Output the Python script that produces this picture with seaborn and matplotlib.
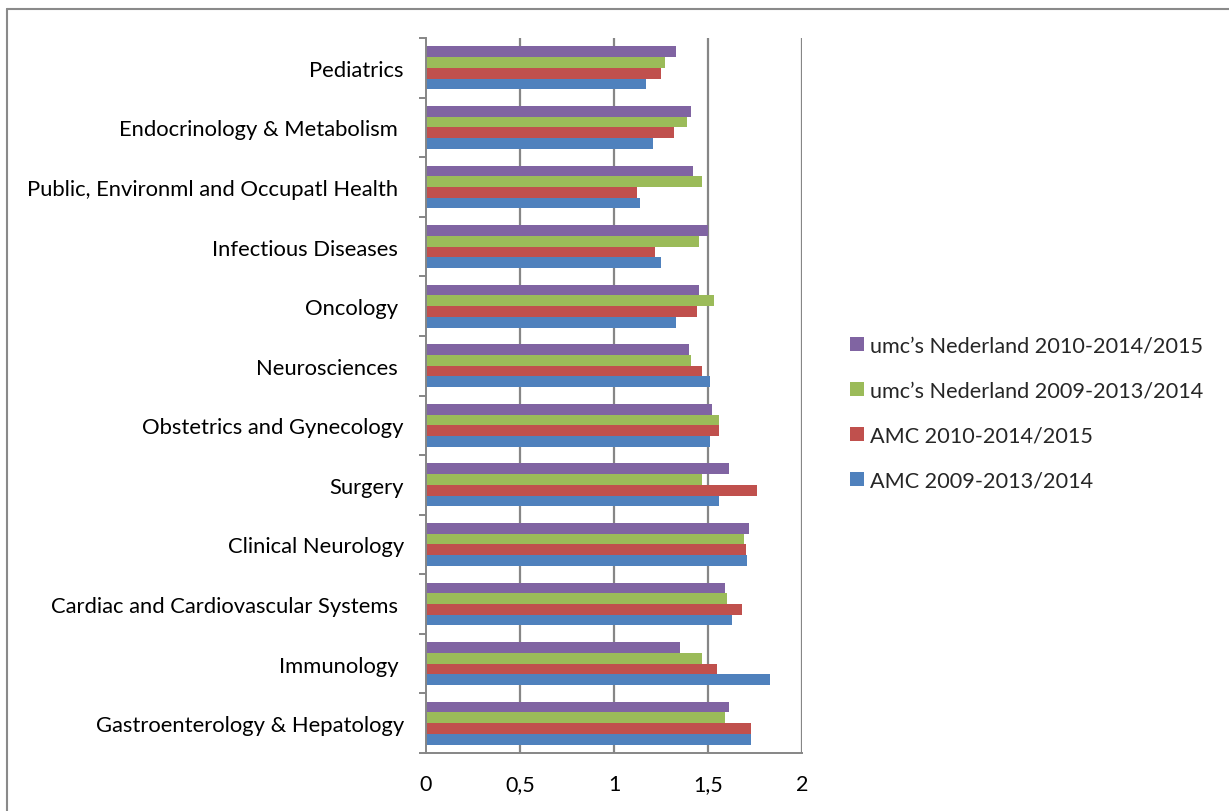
import numpy as np
import pandas as pd
import matplotlib
matplotlib.use("Agg")
import matplotlib.pyplot as plt
from matplotlib.lines import Line2D
from matplotlib.patches import Patch
import seaborn as sns

# Subject areas, top to bottom
categories = [
    "Pediatrics",
    "Endocrinology & Metabolism ",
    "Public, Environml and Occupatl Health ",
    "Infectious Diseases ",
    "Oncology ",
    "Neurosciences ",
    "Obstetrics and Gynecology",
    "Surgery",
    "Clinical Neurology",
    "Cardiac and Cardiovascular Systems ",
    "Immunology ",
    "Gastroenterology & Hepatology",
]

# Series (listed in the order drawn inside each group, top to bottom)
series_names = [
    "umc\u2019s Nederland 2010-2014/2015",
    "umc\u2019s Nederland 2009-2013/2014",
    "AMC 2010-2014/2015",
    "AMC 2009-2013/2014",
]
umc_2010_2015 = [1.33, 1.41, 1.42, 1.50, 1.45, 1.40, 1.52, 1.61, 1.72, 1.59, 1.35, 1.61]
umc_2009_2014 = [1.27, 1.39, 1.47, 1.45, 1.53, 1.41, 1.56, 1.47, 1.69, 1.60, 1.47, 1.59]
amc_2010_2015 = [1.25, 1.32, 1.12, 1.22, 1.44, 1.47, 1.56, 1.76, 1.70, 1.68, 1.55, 1.73]
amc_2009_2014 = [1.17, 1.21, 1.14, 1.25, 1.33, 1.51, 1.51, 1.56, 1.71, 1.63, 1.83, 1.73]
series_colors = ["#8064A2", "#9BBB59", "#C0504D", "#4F81BD"]

x_ticks = [0, 0.5, 1, 1.5, 2]
x_tick_labels = ["0", "0,5", "1", "1,5", "2"]

df = pd.concat(
    [
        pd.DataFrame({"category": categories, "series": name, "value": vals})
        for name, vals in zip(series_names,
                              [umc_2010_2015, umc_2009_2014, amc_2010_2015, amc_2009_2014])
    ],
    ignore_index=True,
)

sns.set_theme(style="white")
plt.rcParams["font.family"] = ["Lato", "DejaVu Sans"]

W, H = 1229, 812
fig = plt.figure(figsize=(W / 100, H / 100), dpi=100)
ax = fig.add_axes([426 / W, 1 - 754 / H, (802 - 426) / W, (754 - 39) / H])

sns.barplot(
    data=df, y="category", x="value", hue="series",
    order=categories, hue_order=series_names,
    palette=series_colors, orient="h", width=0.72,
    linewidth=0, saturation=1, legend=False, ax=ax,
)

grid_col = "#868686"
ax.set_xlim(0, 2)
ax.set_ylim(len(categories) - 0.5, -0.5)
for xv in x_ticks[1:]:
    ax.axvline(xv, color=grid_col, lw=1.6, zorder=0)

for side in ["top", "right"]:
    ax.spines[side].set_visible(False)
for side in ["left", "bottom"]:
    ax.spines[side].set_color(grid_col)
    ax.spines[side].set_linewidth(1.4)

ax.set_xticks(x_ticks)
ax.set_xticklabels(x_tick_labels, fontsize=15.5, color="#000000")
ax.tick_params(axis="x", direction="out", length=5, width=1.4, color=grid_col, pad=10)

ax.set_yticks(range(len(categories)))
ax.set_yticklabels(categories, fontsize=15.8, color="#000000")
ax.set_yticks(np.arange(len(categories) + 1) - 0.5, minor=True)
ax.tick_params(axis="y", which="major", length=0, pad=16)
ax.tick_params(axis="y", which="minor", direction="out", length=5, width=1.4,
               color=grid_col, left=True)
ax.set_xlabel("")
ax.set_ylabel("")

handles = [Patch(facecolor=c, edgecolor="none") for c in series_colors]
fig.legend(
    handles, series_names, loc="upper left",
    bbox_to_anchor=(841 / W, 1 - 328 / H), frameon=False,
    fontsize=15.6, handlelength=0.65, handleheight=0.65, handletextpad=0.3,
    labelspacing=1.15, borderaxespad=0,
)

# Chart area frame
fig.add_artist(Line2D([7 / W, 1], [1 - 9.5 / H, 1 - 9.5 / H], color="#8a8a8a", lw=1.5,
                      transform=fig.transFigure))
fig.add_artist(Line2D([7 / W, 7 / W], [0, 1 - 9.5 / H], color="#8a8a8a", lw=1.5,
                      transform=fig.transFigure))

fig.savefig("out.png", dpi=100, facecolor="white")
